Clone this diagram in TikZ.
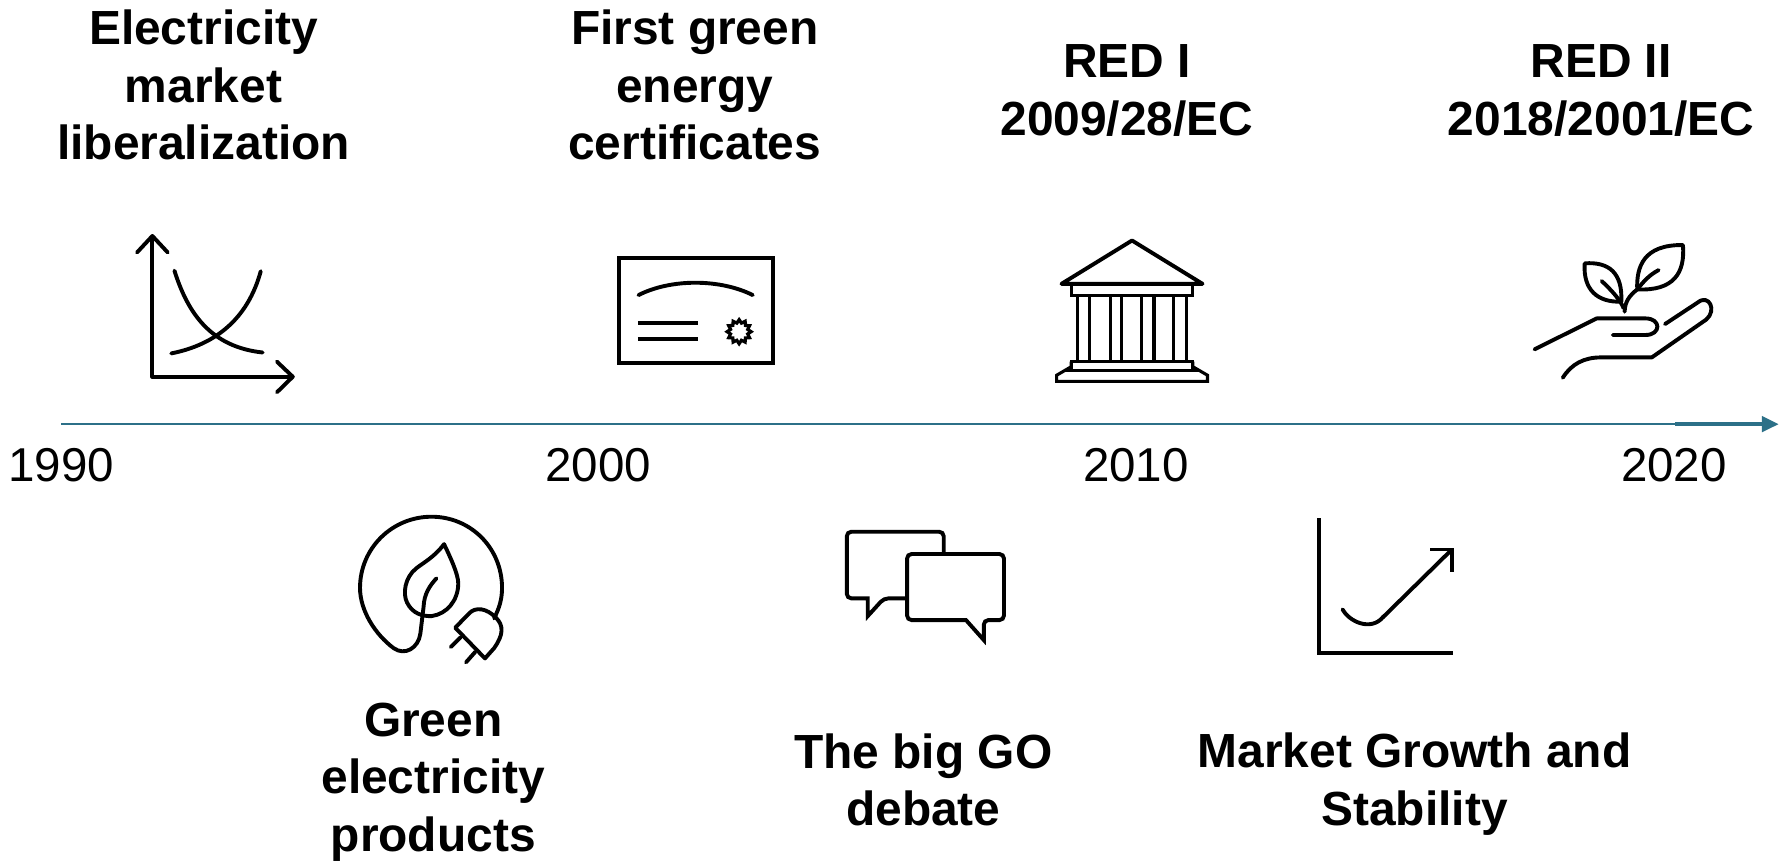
\documentclass[tikz,border=0pt]{standalone}
\usepackage{fontspec}
\setmainfont{Liberation Sans}
\usetikzlibrary{shapes.geometric}
\definecolor{axisteal}{HTML}{2C7088}
\tikzset{
 ink/.style={draw=black,line width=3.9pt,line cap=round,line join=round},
 inksq/.style={draw=black,line width=3.9pt,line cap=butt,line join=miter},
 thin ink/.style={draw=black,line width=3.1pt,line cap=butt,line join=miter},
 heading/.style={align=center,inner sep=0pt,font=\fontsize{47.9}{57.5}\selectfont\bfseries},
 yearlabel/.style={inner sep=0pt,font=\fontsize{47.5}{57}\selectfont},
}
\begin{document}
\begin{tikzpicture}[x=1.1371pt,y=-1.1371pt]
\useasboundingbox (0,0) rectangle (1568,756.3);
% timeline
\coordinate (axisL) at (54,373);
\coordinate (axisM) at (1473,373);
\coordinate (axisR) at (1552,373);
\coordinate (axisTip) at (1564,373);
\draw[axisteal,line width=2.1pt] (axisL) -- (axisR);
\draw[axisteal,line width=3.4pt] (axisM) -- (axisR);
\fill[axisteal] (1549.5,365.8) -- (axisTip) -- (1549.5,380.2) -- cycle;
\node[yearlabel] (y1990) at (54,409) {1990};
\node[yearlabel] (y2000) at (526,409) {2000};
\node[yearlabel] (y2010) at (999,409) {2010};
\node[yearlabel] (y2020) at (1472,409) {2020};
% headings
\node[heading] (t1) at (179,75) {Electricity\\market\\liberalization};
\node[heading] (t2) at (611,75) {First green\\energy\\certificates};
\node[heading] (t3) at (991,79.5) {RED I\\2009/28/EC};
\node[heading] (t4) at (1408,79.5) {RED II\\2018/2001/EC};
\node[heading] (t5) at (381,687.5) {Green\\electricity\\products};
\node[heading] (t6) at (812,686) {The big GO\\debate};
\node[heading] (t7) at (1244,689.5) {Market Growth and\\Stability};
% icon 1: supply and demand
\draw[ink,line cap=butt] (134,208) -- (134,331.3) -- (257,331.3);
\draw[ink] (120.5,222) -- (134,207.5) -- (147.5,222);
\draw[ink] (243.5,318) -- (257.5,331.3) -- (243.5,345);
\draw[ink] (153.4,238) .. controls (165,275) and (185,305) .. (231,310);
\draw[ink] (150.6,310.8) .. controls (190,303) and (218,280) .. (229.3,238.5);
% icon 2: certificate
\draw[inksq] (544.3,227.2) rectangle (679.5,319.6);
\draw[ink] (561.5,259.5) .. controls (590,245) and (633,245) .. (662,259.5);
\draw[inksq] (561,283.8) -- (613.7,283.8);
\draw[inksq] (561,298.2) -- (613.7,298.2);
\node[star,star points=12,star point ratio=1.35,draw=black,line width=3.2pt,inner sep=0pt,minimum size=24pt] (seal) at (650,291.7) {};
% icon 3: institution
\draw[inksq,line join=round] (933.5,249.6) -- (995.5,211.5) -- (1057.5,249.6) -- cycle;
\draw[thin ink] (942,250) rectangle (1049,259.5);
\foreach \cx in {947.6,958.3,976.3,986.1,1004.1,1014.8,1031.9,1043.4}
  \draw[thin ink] (\cx,259.5) -- (\cx,318);
\draw[thin ink] (942,318) rectangle (1049,326);
\draw[thin ink] (942,318) -- (942,322.5) -- (929.2,330) -- (929.2,335.4) -- (1061.9,335.4) -- (1061.9,330) -- (1049,322.5) -- (1049,318);
\draw[thin ink] (937,326) -- (1054,326);
% icon 4: hand and plant
\draw[ink] (1349.5,307.2) -- (1404.2,280) -- (1447,280) .. controls (1461,280) and (1461,294.6) .. (1447,294.6) -- (1418.4,294.6);
\draw[ink] (1374.3,332.2) .. controls (1382,320) and (1393,314.3) .. (1408,314.3) -- (1452.6,314.3) -- (1500.5,281) .. controls (1510,273) and (1503,258) .. (1493,266) -- (1464.2,285);
\draw[ink] (1428.7,274.1) .. controls (1429,265) and (1433,260) .. (1439.8,254.5) .. controls (1445,248) and (1450,242) .. (1458.6,237.5);
\draw[ink] (1439.8,254.5) .. controls (1439,235) and (1445,215) .. (1480,215.5) .. controls (1482,240) and (1472,256) .. (1439.8,254.5);
\draw[ink] (1393.6,231.6) .. controls (1415,230) and (1427,240) .. (1425.8,265.3) .. controls (1405,266) and (1392,255) .. (1393.6,231.6);
\draw[ink] (1408.5,247.1) .. controls (1418,256) and (1425,264) .. (1427.8,271);
% icon 5: green plug
\draw[ink] (434.5,543.8) .. controls (439,535) and (441.5,527) .. (441.5,517) .. controls (441.5,482) and (414,454.4) .. (379.5,454.4) .. controls (345,454.4) and (316.6,482) .. (316.6,517) .. controls (316.6,537) and (330,558) .. (346.2,570) .. controls (356,577) and (368,570) .. (369.7,557) -- (372.5,533.6) .. controls (373,522) and (378,515) .. (383.8,508.6);
\draw[ink] (390.5,478.5) .. controls (382,490) and (372,495) .. (365.8,500) .. controls (356,508) and (354,522) .. (358,530) .. controls (363,540) and (372,542) .. (379.5,541.8) .. controls (393,540) and (403,528) .. (403,513) .. controls (403,505) and (396,490) .. (390.5,478.5) -- cycle;
\draw[ink] (400.3,552) -- (426.5,579) -- (434.5,570) .. controls (443,558) and (443,550) .. (436,543) .. controls (428,535) and (418,533) .. (412,540) -- cycle;
\draw[ink] (405,560.4) -- (396.4,569);
\draw[ink] (418,573.2) -- (409.8,582.5);
% icon 6: speech bubbles
\draw[inksq,rounded corners=4.5pt] (797.7,526.2) -- (777.3,526.2) [sharp corners] -- (763.1,541.8) -- (763.1,526.2) [rounded corners=4.5pt] -- (744.7,526.2) -- (744.7,467.6) -- (829.9,467.6) -- (829.9,487.2);
\draw[inksq,rounded corners=4.5pt] (797.7,487.2) -- (882.9,487.2) -- (882.9,545.3) -- (865.2,545.3) [sharp corners] -- (865.2,562.9) -- (849.5,545.3) [rounded corners=4.5pt] -- (797.7,545.3) -- cycle;
% icon 7: growth chart
\draw[inksq] (1160.3,455.9) -- (1160.3,574) -- (1278.2,574);
\draw[ink] (1180.6,535.9) .. controls (1186,546) and (1205,556) .. (1216.6,542.4);
\draw[inksq] (1216,543) -- (1276,484);
\draw[inksq] (1257.7,483.2) -- (1276.8,483.2) -- (1276.8,502.8);
\end{tikzpicture}
\end{document}
